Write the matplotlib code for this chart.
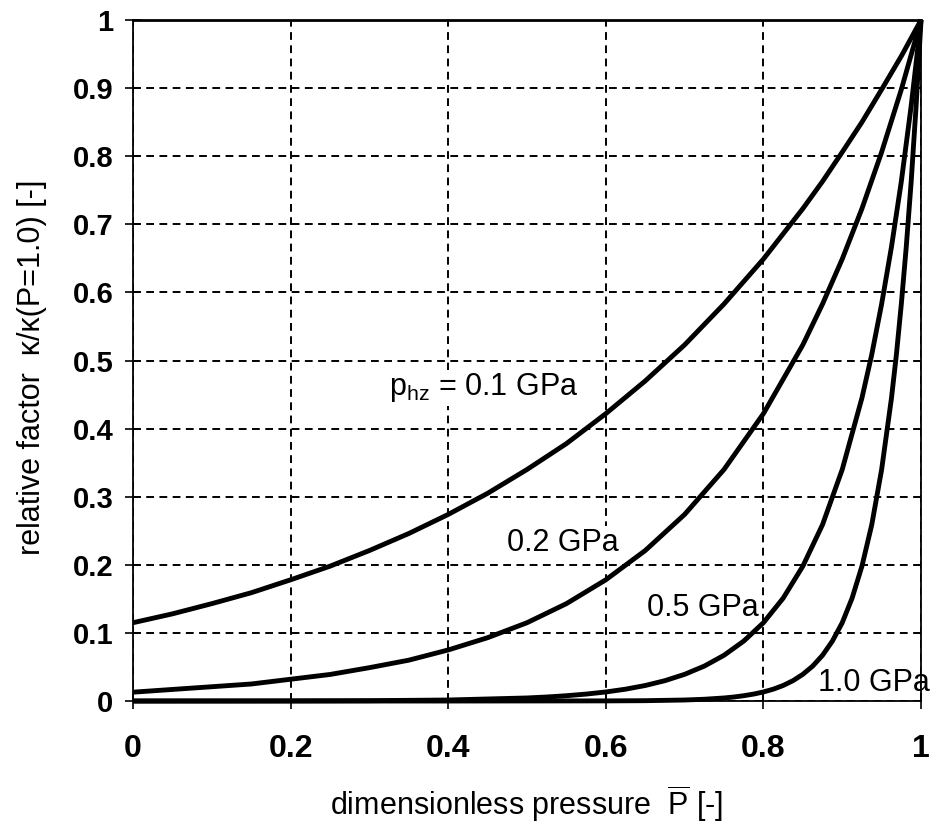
import matplotlib
matplotlib.use('Agg')
import matplotlib.pyplot as plt

# values
p_01 = [0.0, 0.05, 0.10, 0.15, 0.20, 0.25, 0.30, 0.35, 0.40, 0.45, 0.50,
        0.55, 0.60, 0.65, 0.70, 0.75, 0.80, 0.85, 0.875, 0.90, 0.925, 0.95, 0.975, 1.0]
k_01 = [0.115, 0.128, 0.143, 0.159, 0.178, 0.198, 0.221, 0.246, 0.274, 0.305, 0.340,
        0.378, 0.422, 0.470, 0.523, 0.583, 0.649, 0.723, 0.763, 0.806, 0.850, 0.898,
        0.947, 1.0]

p_02 = p_01
k_02 = [0.013, 0.017, 0.021, 0.025, 0.032, 0.039, 0.049, 0.060, 0.075, 0.093, 0.115,
        0.143, 0.178, 0.221, 0.274, 0.340, 0.422, 0.523, 0.583, 0.649, 0.723, 0.806,
        0.898, 1.0]

p_05 = [0.0, 0.1, 0.2, 0.3, 0.4, 0.5, 0.525, 0.55, 0.575, 0.6, 0.625, 0.65, 0.675,
        0.7, 0.725, 0.75, 0.775, 0.8, 0.825, 0.85, 0.875, 0.9, 0.925, 0.9375, 0.95,
        0.9625, 0.975, 0.9875, 1.0]
k_05 = [0.0, 0.0001, 0.0002, 0.0005, 0.0015, 0.0045, 0.0059, 0.0078, 0.0102, 0.0133,
        0.0174, 0.0228, 0.0299, 0.0392, 0.0513, 0.0672, 0.0880, 0.115, 0.151, 0.198,
        0.259, 0.340, 0.445, 0.509, 0.583, 0.667, 0.763, 0.874, 1.0]

p_10 = [0.0, 0.2, 0.4, 0.6, 0.65, 0.7, 0.725, 0.75, 0.7625, 0.775, 0.7875, 0.8,
        0.8125, 0.825, 0.8375, 0.85, 0.8625, 0.875, 0.8875, 0.9, 0.9125, 0.925,
        0.9375, 0.95, 0.9625, 0.96875, 0.975, 0.98125, 0.9875, 0.99375, 1.0]
k_10 = [0.0, 0.0, 0.0, 0.0002, 0.0005, 0.0015, 0.0026, 0.0045, 0.0059, 0.0078,
        0.0102, 0.0133, 0.0174, 0.0228, 0.0299, 0.0392, 0.0513, 0.0672, 0.0880,
        0.115, 0.151, 0.198, 0.259, 0.340, 0.445, 0.509, 0.583, 0.667, 0.763,
        0.874, 1.0]

x_ticks = [0, 0.2, 0.4, 0.6, 0.8, 1]
x_ticklabels = ['0', '0.2', '0.4', '0.6', '0.8', '1']
y_ticks = [0, 0.1, 0.2, 0.3, 0.4, 0.5, 0.6, 0.7, 0.8, 0.9, 1]
y_ticklabels = ['0', '0.1', '0.2', '0.3', '0.4', '0.5', '0.6', '0.7', '0.8', '0.9', '1']

plt.rcParams['font.family'] = ['Liberation Sans', 'DejaVu Sans']
plt.rcParams['mathtext.fontset'] = 'custom'
plt.rcParams['mathtext.rm'] = 'Liberation Sans'
plt.rcParams['mathtext.it'] = 'Liberation Sans'

fig = plt.figure(figsize=(9.31, 8.26), dpi=100)
ax = fig.add_axes([0.1429, 0.1513, 0.8464, 0.8245])

for px, ky in [(p_01, k_01), (p_02, k_02), (p_05, k_05), (p_10, k_10)]:
    ax.plot(px, ky, color='black', linewidth=3.5, clip_on=False,
            solid_joinstyle='round', solid_capstyle='butt', zorder=3)

ax.set_xlim(0, 1)
ax.set_ylim(0, 1)
ax.set_xticks(x_ticks)
ax.set_xticklabels(x_ticklabels, fontsize=23, fontweight='bold',
                   family=['Liberation Sans Narrow', 'Liberation Sans'])
ax.set_yticks(y_ticks)
ax.set_yticklabels(y_ticklabels, fontsize=21, fontweight='bold')
ax.tick_params(direction='inout', length=12, width=1.2, color='black', pad=8)
ax.tick_params(axis='x', pad=18)

ax.grid(True, color='black', linestyle=(0, (4, 2.8)), linewidth=1.4)
for s in ax.spines.values():
    s.set_linewidth(1.3)
    s.set_color('black')
ax.spines['top'].set_linewidth(2)

# curve labels (white box hides the grid behind them)
box = dict(facecolor='white', edgecolor='none', pad=1)
ax.text(0.565, 0.46, r'$\mathregular{p_{hz}}$ = 0.1 GPa', fontsize=22,
        va='center', ha='right', bbox=box, zorder=2)
ax.text(0.475, 0.232, '0.2 GPa', fontsize=22, va='center', ha='left',
        bbox=box, zorder=2)
ax.text(0.652, 0.137, '0.5 GPa', fontsize=22, va='center', ha='left',
        bbox=box, zorder=2)
ax.text(1.011, 0.027, '1.0 GPa', fontsize=22, va='center', ha='right',
        clip_on=False, zorder=2)

ax.set_xlabel(r'dimensionless pressure  $\mathregular{\overline{P}}$ [-]',
              fontsize=22, va='baseline')
ax.set_ylabel('relative factor  κ/κ(P=1.0) [-]', fontsize=22, va='center')
ax.xaxis.set_label_coords(0.5, -0.168)
ax.yaxis.set_label_coords(-0.128, 0.49)

fig.savefig('out.png', dpi=100, facecolor='white')
